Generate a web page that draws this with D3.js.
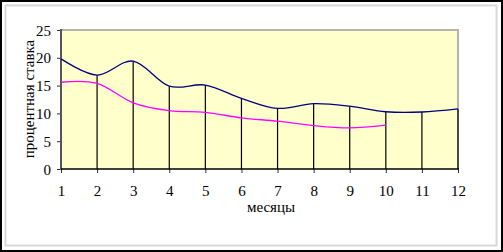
<!DOCTYPE html>
<html><head><meta charset="utf-8">
<script src="https://cdn.jsdelivr.net/npm/d3@7"></script>
<style>body{margin:0;background:#fff}svg{display:block}</style>
</head><body>
<script>
const months = [1,2,3,4,5,6,7,8,9,10,11,12];
const seriesNavy = [19.8,16.9,19.4,14.9,15.1,12.7,10.9,11.75,11.3,10.3,10.25,10.8];
const seriesPink = [15.6,15.4,11.9,10.5,10.2,9.2,8.6,7.8,7.4,7.9];
const yTicks = [0,5,10,15,20,25];
const xTitle = "месяцы";
const yTitle = "процентная ставка";

const FONT = "'Times New Roman', Times, 'Liberation Serif', 'DejaVu Serif', serif";
const W=503,H=252;
const svg=d3.select("body").append("svg").attr("width",W).attr("height",H);
svg.append("rect").attr("x",1).attr("y",1).attr("width",W-2).attr("height",H-2).attr("fill","#fff").attr("stroke","#000").attr("stroke-width",2);
svg.append("rect").attr("x",5.5).attr("y",5.5).attr("width",W-12).attr("height",H-12).attr("fill","none").attr("stroke","#d8d8d8").attr("stroke-width",2);

const L=61,R=458,T=30,B=169;
const x=d3.scaleLinear().domain([1,12]).range([L,R]);
const y=d3.scaleLinear().domain([0,25]).range([B,T]);

svg.append("rect").attr("x",L).attr("y",T).attr("width",R-L).attr("height",B-T).attr("fill","#FFFFCC");
svg.append("path").attr("d",`M${L},${T}H${R}V${B}`).attr("fill","none").attr("stroke","#b4b4ac").attr("stroke-width",2);

const maxVals=months.map((m,i)=>Math.max(seriesNavy[i]??0, seriesPink[i]??0));
svg.append("g").selectAll("line").data(months).join("line")
 .attr("x1",d=>x(d)).attr("x2",d=>x(d))
 .attr("y1",(d,i)=>y(maxVals[i])).attr("y2",y(0))
 .attr("stroke","#000").attr("stroke-width",1.2);

const ya=svg.append("g").attr("transform",`translate(${L},0)`)
 .call(d3.axisLeft(y).tickValues(yTicks).tickSize(4).tickPadding(6));
ya.select(".domain").remove();
ya.selectAll("line").attr("stroke","#333");
ya.selectAll("text").attr("fill","#000").attr("dy","0.34em").style("font-family",FONT).style("font-size","15px");
svg.append("line").attr("x1",L).attr("x2",L).attr("y1",T-1).attr("y2",B+1).attr("stroke","#555").attr("stroke-width",2);

const xa=svg.append("g").attr("transform",`translate(0,${B})`)
 .call(d3.axisBottom(x).tickValues(months).tickFormat(d3.format("d")).tickSize(4).tickPadding(12));
xa.select(".domain").remove();
xa.selectAll("line").attr("stroke","#333");
xa.selectAll("text").attr("fill","#000").style("font-family",FONT).style("font-size","15px");
svg.append("line").attr("x1",L).attr("x2",R+1).attr("y1",B).attr("y2",B).attr("stroke","#000").attr("stroke-width",1.5);

const line=d3.line().x((d,i)=>x(months[i])).y(d=>y(d)).curve(d3.curveCatmullRom.alpha(0));
svg.append("path").datum(seriesPink).attr("d",line).attr("fill","none").attr("stroke","#FF00FF").attr("stroke-width",1.3);
svg.append("path").datum(seriesNavy).attr("d",line).attr("fill","none").attr("stroke","#000080").attr("stroke-width",1.3);

svg.append("text").attr("x",271).attr("y",212).attr("text-anchor","middle").style("font-family",FONT).style("font-size","15px").text(xTitle);
svg.append("text").attr("transform","translate(34,99) rotate(-90)").attr("text-anchor","middle").style("font-family",FONT).style("font-size","15px").text(yTitle);
</script>
</body></html>
